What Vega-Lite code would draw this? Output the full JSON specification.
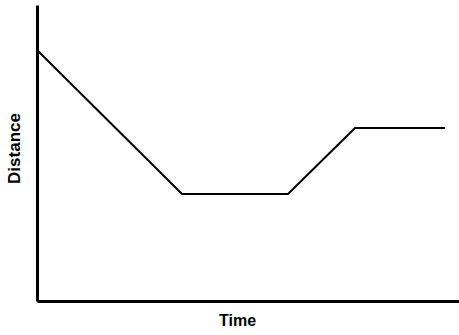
{
  "$schema": "https://vega.github.io/schema/vega-lite/v6.json",
  "width": 422,
  "height": 296,
  "autosize": "none",
  "padding": {"left": 37, "top": 5, "right": 0, "bottom": 34},
  "background": "white",
  "config": {"view": {"stroke": null}},
  "data": {"values": [
    {"time": 0, "distance": 251},
    {"time": 145, "distance": 107},
    {"time": 251, "distance": 107},
    {"time": 318, "distance": 173},
    {"time": 408, "distance": 173}
  ]},
  "mark": {"type": "line", "color": "black", "strokeWidth": 2},
  "encoding": {
    "x": {"field": "time", "type": "quantitative", "scale": {"domain": [0, 422], "nice": false},
      "axis": {"title": "Time", "ticks": false, "labels": false, "grid": false, "domainColor": "black", "domainWidth": 3,
        "titleFont": "Liberation Sans", "titleFontSize": 16, "titleFontWeight": "bold", "titleColor": "black", "titleX": 200, "titleY": 11, "titleBaseline": "top"}},
    "y": {"field": "distance", "type": "quantitative", "scale": {"domain": [0, 296], "nice": false},
      "axis": {"title": "Distance", "ticks": false, "labels": false, "grid": false, "domainColor": "black", "domainWidth": 3,
        "titleFont": "Liberation Sans", "titleFontSize": 17, "titleFontWeight": "bold", "titleColor": "black", "titleX": -14, "titleY": 143}}
  }
}
